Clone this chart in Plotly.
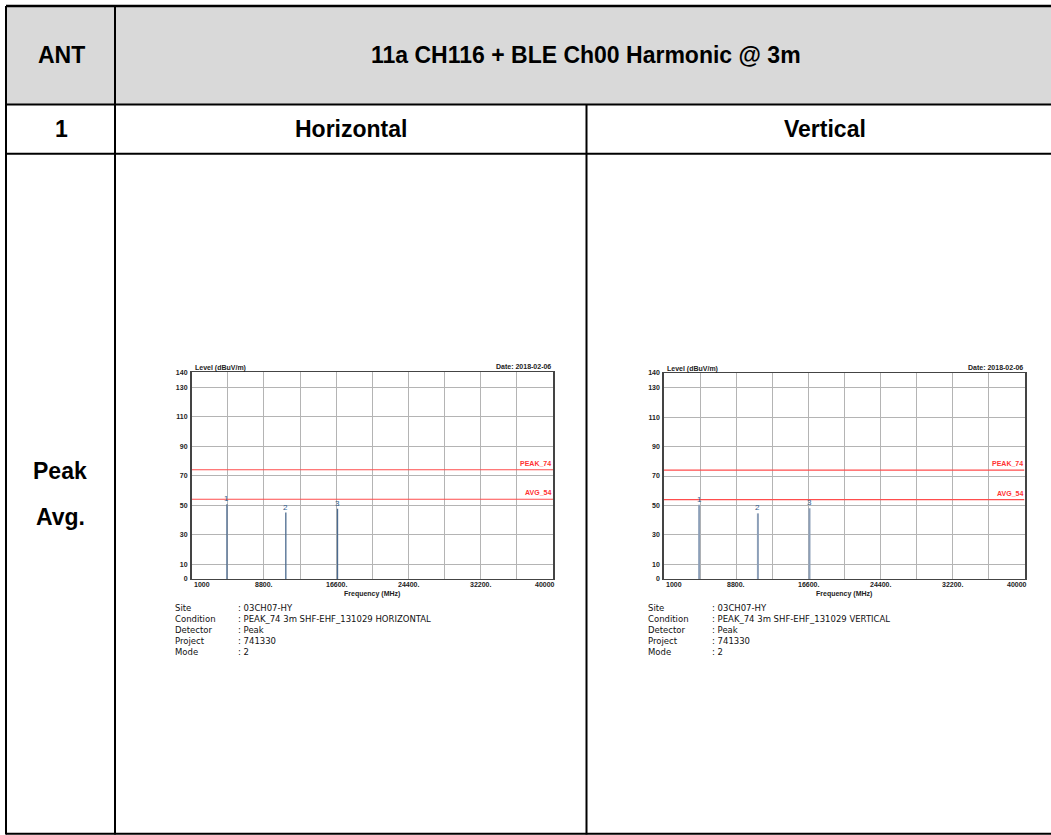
import plotly.graph_objects as go

W, H = 1051, 835

# ---------------- data ----------------
freq_range = [1000, 40000]
level_range = [0, 140]
x_tick_vals = [1000, 8800, 16600, 24400, 32200, 40000]
x_tick_text = ["1000", "8800.", "16600.", "24400.", "32200.", "40000"]
x_grid_vals = [4900, 8800, 12700, 16600, 20500, 24400, 28300, 32200, 36100]
y_tick_vals = [0, 10, 30, 50, 70, 90, 110, 130, 140]
limit_values = [74, 54]
limit_names = ["PEAK_74", "AVG_54"]

marker_ids = ["1", "2", "3"]
h_freqs = [4804, 11160, 16740]
h_levels = [50.6, 45.0, 47.6]
v_freqs = [4804, 11160, 16740]
v_levels = [50.5, 44.6, 48.0]

info_labels = ["Site", "Condition", "Detector", "Project", "Mode"]
h_info_values = [": 03CH07-HY", ": PEAK_74 3m SHF-EHF_131029 HORIZONTAL", ": Peak", ": 741330", ": 2"]
v_info_values = [": 03CH07-HY", ": PEAK_74 3m SHF-EHF_131029 VERTICAL", ": Peak", ": 741330", ": 2"]

title_text = "11a CH116 + BLE Ch00 Harmonic @ 3m"
date_text = "Date: 2018-02-06"

# ---------------- helpers ----------------
def px(x):
    return x / W

def py(y):
    return 1 - y / H

fig = go.Figure()
shapes = []
ann = []

# table background and lines
shapes.append(dict(type="rect", xref="paper", yref="paper", x0=px(6), x1=px(1051), y0=py(6), y1=py(104.5),
                   fillcolor="#d9d9d9", line=dict(width=0), layer="below"))
tbl_lines = [
    (6, 6, 1051, 6, 2.5),
    (6, 104.5, 1051, 104.5, 2),
    (6, 153.8, 1051, 153.8, 2),
    (6, 833.8, 1051, 833.8, 2),
    (6, 6, 6, 834.5, 2),
    (115, 6, 115, 834.5, 2),
    (586.5, 104.5, 586.5, 834.5, 2),
]
for x0, y0, x1, y1, w in tbl_lines:
    shapes.append(dict(type="line", xref="paper", yref="paper", x0=px(x0), y0=py(y0), x1=px(x1), y1=py(y1),
                       line=dict(color="black", width=w), layer="above"))

cell_font = dict(family="Liberation Sans, Arial", size=23, color="black")
for txt, x, y in [("ANT", 61, 55.5), (title_text, 586, 55.5), ("1", 61, 129), ("Horizontal", 351, 129),
                  ("Vertical", 825, 129), ("Peak", 60, 471), ("Avg.", 60, 517)]:
    ann.append(dict(text=f"<b>{txt}</b>", xref="paper", yref="paper", x=px(x), y=py(y), showarrow=False,
                    xanchor="center", yanchor="middle", font=cell_font))

panels = [
    dict(ax="", x0=191.7, x1=553, yt=372.3, yb=579, freqs=h_freqs, levels=h_levels, info=h_info_values,
         lab_x=173, val_x=236, spike_color="#4b6a8f", spike_w=1.3),
    dict(ax="2", x0=664, x1=1024.5, yt=373, yb=579, freqs=v_freqs, levels=v_levels, info=v_info_values,
         lab_x=646, val_x=710, spike_color="#8c9fb8", spike_w=2),
]

tick_font = dict(family="Liberation Sans, Arial", size=7, color="#222222")
for p in panels:
    xa = "x" + p["ax"]
    ya = "y" + p["ax"]
    # spikes
    xs, ys = [], []
    for f, v in zip(p["freqs"], p["levels"]):
        xs += [f, f, None]
        ys += [0, v, None]
    fig.add_trace(go.Scatter(x=xs, y=ys, mode="lines", line=dict(color=p["spike_color"], width=p["spike_w"]),
                             xaxis=xa, yaxis=ya, showlegend=False, hoverinfo="skip"))
    # limit lines
    for lv, nm in zip(limit_values, limit_names):
        fig.add_trace(go.Scatter(x=freq_range, y=[lv, lv], mode="lines", line=dict(color="#ff4d4d", width=1.2),
                                 xaxis=xa, yaxis=ya, showlegend=False, hoverinfo="skip"))
        ann.append(dict(text=f"<b>{nm}</b>", xref=xa, yref=ya, x=freq_range[1], y=lv, yshift=1,
                        showarrow=False, xanchor="right", yanchor="bottom",
                        font=dict(family="Liberation Sans, Arial", size=7, color="#ff3333")))
    # marker labels
    for mid, f, v in zip(marker_ids, p["freqs"], p["levels"]):
        ann.append(dict(text=mid, xref=xa, yref=ya, x=f, y=v, showarrow=False, xanchor="center",
                        yanchor="bottom", yshift=-1,
                        font=dict(family="Liberation Sans, Arial", size=8, color="#2e5c8a")))
    # x tick labels
    for tv, tt in zip(x_tick_vals, x_tick_text):
        anchor = "center"
        xs_ = 0
        if tv == freq_range[0]:
            anchor, xs_ = "left", 0
        elif tv == freq_range[1]:
            anchor, xs_ = "right", 4
        ann.append(dict(text=f"<b>{tt}</b>", xref=xa, yref="paper", x=tv, y=py(p["yb"] + 5.5), xshift=xs_,
                        showarrow=False, xanchor=anchor, yanchor="middle", font=tick_font))
    xmid = (p["x0"] + p["x1"]) / 2
    ann.append(dict(text="<b>Frequency (MHz)</b>", xref="paper", yref="paper", x=px(xmid), y=py(p["yb"] + 14.5),
                    showarrow=False, xanchor="center", yanchor="middle", font=tick_font))
    ann.append(dict(text="<b>Level (dBuV/m)</b>", xref="paper", yref="paper", x=px(p["x0"] + 1), y=py(p["yt"] - 4.5),
                    showarrow=False, xanchor="left", yanchor="middle", font=tick_font))
    ann.append(dict(text=f"<b>{date_text}</b>", xref="paper", yref="paper", x=px(p["x1"]), y=py(p["yt"] - 6),
                    showarrow=False, xanchor="right", yanchor="middle", font=tick_font))
    # info block
    for i, (lab, val) in enumerate(zip(info_labels, p["info"])):
        yy = 608 + i * 10.9
        info_font = dict(family="DejaVu Sans", size=8.5, color="#111111")
        ann.append(dict(text=lab, xref="paper", yref="paper", x=px(p["lab_x"]), y=py(yy), showarrow=False,
                        xanchor="left", yanchor="middle", font=info_font))
        ann.append(dict(text=val, xref="paper", yref="paper", x=px(p["val_x"]), y=py(yy), showarrow=False,
                        xanchor="left", yanchor="middle", font=info_font))

    xaxis = dict(domain=[px(p["x0"]), px(p["x1"])], range=freq_range, tickvals=x_grid_vals,
                 showticklabels=False, showgrid=True, gridcolor="#b4b4b4", gridwidth=1,
                 showline=True, linecolor="#444444", linewidth=1, mirror=True, zeroline=False,
                 anchor=ya, fixedrange=True, automargin=False)
    yaxis = dict(domain=[py(p["yb"]), py(p["yt"])], range=level_range, tickvals=y_tick_vals,
                 ticktext=[f"<b>{v}</b>" for v in y_tick_vals], tickfont=tick_font, ticks="",
                 showgrid=True, gridcolor="#b4b4b4", gridwidth=1, ticklabelstandoff=1,
                 showline=True, linecolor="#444444", linewidth=1.5, mirror=True, zeroline=False,
                 anchor=xa, fixedrange=True, automargin=False)
    fig.layout["xaxis" + p["ax"]] = xaxis
    fig.layout["yaxis" + p["ax"]] = yaxis

fig.update_layout(width=W, height=H, autosize=False, margin=dict(l=0, r=0, t=0, b=0, pad=0, autoexpand=False),
                  paper_bgcolor="white", plot_bgcolor="white", shapes=shapes, annotations=ann,
                  showlegend=False)

post = "document.body.style.margin='0';document.body.style.padding='0';"
fig.write_html("out.html", post_script=post, config={"displayModeBar": False})
